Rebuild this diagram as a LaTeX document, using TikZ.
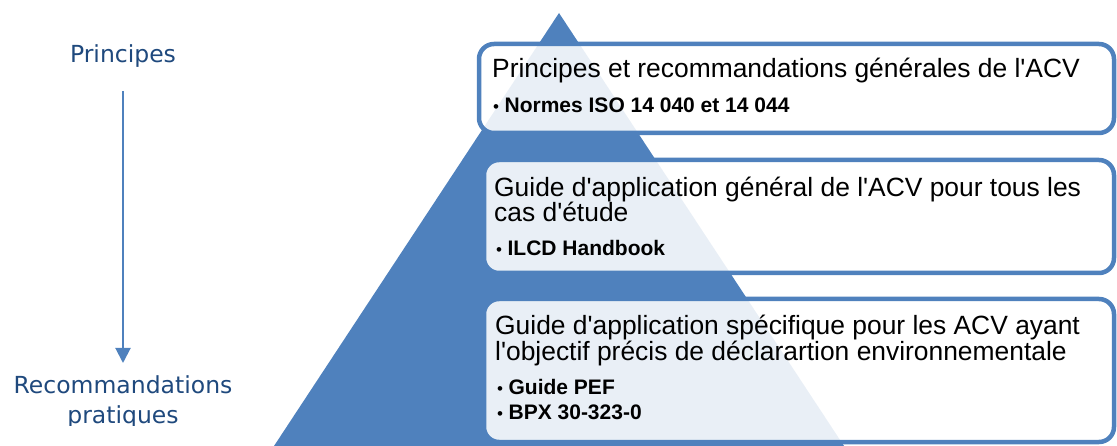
\documentclass[tikz,border=0pt]{standalone}
\usepackage{fontspec}
\setmainfont{Liberation Sans}[Ligatures=TeXOff]
\newfontfamily\labelfont{DejaVu Sans}
\usetikzlibrary{arrows.meta,calc}
\definecolor{pyrblue}{RGB}{79,129,189}
\definecolor{labelblue}{RGB}{31,73,125}
\newcommand\blt{{\fontsize{17}{17}\mdseries\selectfont•}\hspace{5.5pt}}
\tikzset{
  levelbox/.style={draw=pyrblue, line width=4.5pt, rounded corners=15pt,
    fill=white, fill opacity=0.88, anchor=north west, inner sep=0pt,
    outer sep=0pt},
  maintext/.style={anchor=base west, inner sep=0pt, text=black,
    font=\fontsize{26.4}{26}\selectfont},
  bullettext/.style={anchor=base west, inner sep=0pt, text=black,
    font=\fontsize{21}{21}\bfseries\selectfont},
  sidelabel/.style={anchor=base, inner sep=0pt, text=labelblue,
    font=\fontsize{23.5}{23.5}\labelfont\selectfont},
  flow/.style={draw=pyrblue, line width=2pt,
    -{Triangle[length=15pt,width=15pt]}}
}
\begin{document}
\begin{tikzpicture}[x=1pt,y=-1pt]
\useasboundingbox (0,0) rectangle (1117,446);
\clip (0,0) rectangle (1117,446);

% pyramid
\fill[pyrblue] (559,13) -- (844,446) -- (274,446) -- cycle;

% level boxes
\node[levelbox, minimum width=635pt, minimum height=89pt] (box1) at (479,44) {};
\node[levelbox, minimum width=630pt, minimum height=113pt] (box2) at (484,160) {};
\node[levelbox, minimum width=630pt, minimum height=143pt] (box3) at (484,299) {};

% level 1
\node[maintext] (l1a) at (492,78) {Principes et recommandations générales de l'ACV};
\node[bullettext] (l1b) at (493,113) {\blt Normes ISO 14 040 et 14 044};

% level 2
\node[maintext] (l2a) at (494,197) {Guide d'application général de l'ACV pour tous les};
\node[maintext] (l2b) at (494,222) {cas d'étude};
\node[bullettext] (l2c) at (496,256) {\blt ILCD Handbook};

% level 3
\node[maintext] (l3a) at (495,335) {Guide d'application spécifique pour les ACV ayant};
\node[maintext] (l3b) at (495,361) {l'objectif précis de déclarartion environnementale};
\node[bullettext] (l3c) at (497,395) {\blt Guide PEF};
\node[bullettext] (l3d) at (497,420) {\blt BPX 30-323-0};

% side scale
\node[sidelabel] (p) at (123,63) {Principes};
\begin{scope}
  \clip (0,0) rectangle (270,425);
  \node[sidelabel] (r) at (123,393) {Recommandations};
  \node[sidelabel] (r2) at (123,424) {pratiques};
\end{scope}
\draw[flow] ($(p.base)+(0,28)$) -- ($(r.base)+(0,-30)$);
\end{tikzpicture}
\end{document}
